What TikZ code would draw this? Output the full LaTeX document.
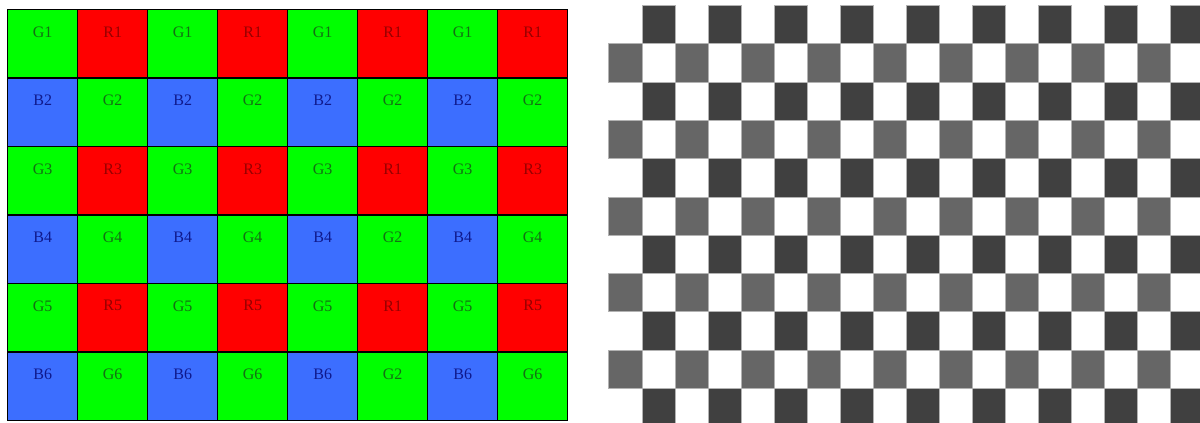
\documentclass[tikz,border=0pt]{standalone}
\usepackage{fontspec}
\setmainfont{Liberation Serif}
\usepackage{xcolor}

\definecolor{fill0}{RGB}{0,255,0}
\definecolor{fill1}{RGB}{255,0,0}
\definecolor{fill2}{RGB}{60,110,255}
\definecolor{fill3}{RGB}{0,255,0}
\definecolor{ink0}{RGB}{20,110,20}
\definecolor{ink1}{RGB}{150,0,0}
\definecolor{ink2}{RGB}{15,25,140}
\definecolor{ink3}{RGB}{20,110,20}
\definecolor{shade0}{RGB}{64,64,64}
\definecolor{shade1}{RGB}{102,102,102}

\begin{document}
\begin{tikzpicture}[x=1pt, y=-1pt,
  cell/.style={rectangle, inner sep=0pt, minimum width=70pt,
               minimum height=68.5pt},
  gridline/.style={draw=black, line width=1pt},
  tag/.style={font=\fontsize{16}{16}\selectfont, inner sep=0pt},
  square/.style={rectangle, draw=gray!60, line width=1pt, inner sep=0pt,
                 minimum width=33.05pt, minimum height=38.3pt}
]
\useasboundingbox (0,0) rectangle (1200,423);
\fill[white] (0,0) rectangle (1200,423);
\clip (0,0) rectangle (1200,423);

% Bayer mosaic
\foreach \r/\row in {0/{G1,R1,G1,R1,G1,R1,G1,R1},
                     1/{B2,G2,B2,G2,B2,G2,B2,G2},
                     2/{G3,R3,G3,R3,G3,R1,G3,R3},
                     3/{B4,G4,B4,G4,B4,G2,B4,G4},
                     4/{G5,R5,G5,R5,G5,R1,G5,R5},
                     5/{B6,G6,B6,G6,B6,G2,B6,G6}}{
  \foreach \lab [count=\c from 0] in \row {
    \pgfmathtruncatemacro\kind{2*mod(\r,2)+mod(\c,2)}
    \node[cell, fill=fill\kind] (px-\r-\c)
         at ({42.7+70*\c},{43.75+68.5*\r}) {};
    \node[tag, text=ink\kind] (lab-\r-\c)
         at ([yshift=-22.5pt]px-\r-\c.north) {\lab};
  }
}
\foreach \r in {0,...,5}{
  \foreach \c in {0,...,7}{
    \draw[gridline] (px-\r-\c.north west) rectangle (px-\r-\c.south east);
  }
}

% checkerboard
\foreach \r in {0,...,10}{
  \foreach \c in {0,...,17}{
    \pgfmathtruncatemacro\on{mod(\r+\c,2)}
    \pgfmathtruncatemacro\shade{mod(\r,2)}
    \ifnum\on=1
      \node[square, fill=shade\shade] (sq-\r-\c)
           at ({625.5+33.05*\c},{24.65+38.3*\r}) {};
    \fi
  }
}
\end{tikzpicture}
\end{document}
